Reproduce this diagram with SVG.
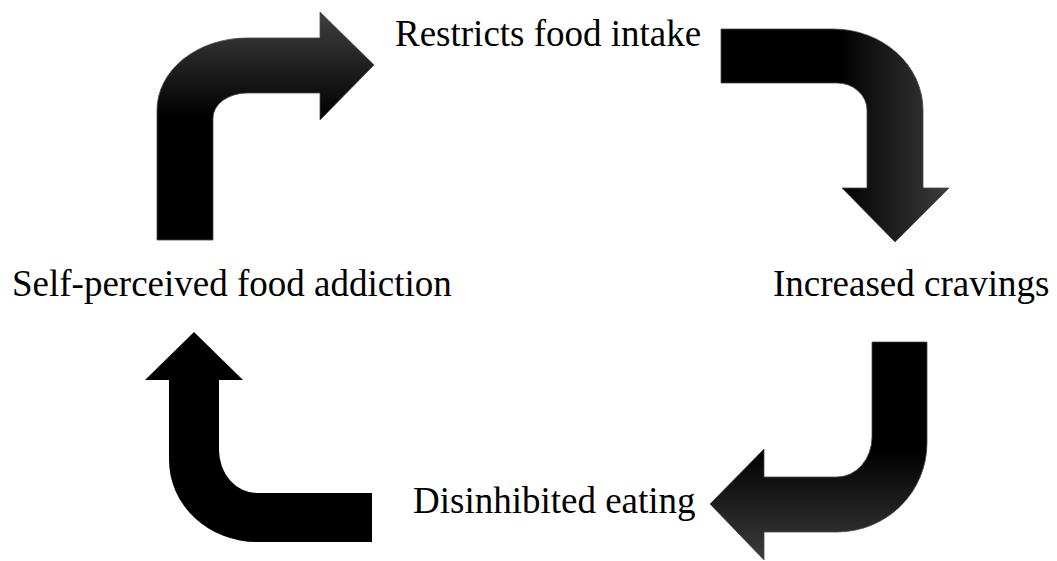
<svg xmlns="http://www.w3.org/2000/svg" width="1057" height="561" viewBox="0 0 1057 561">
  <style>
    .lbl { font-family: "Liberation Serif", "Times New Roman", serif; font-size: 37px; fill: #000; }
    .arr { stroke: #4a4a4a; stroke-width: 0.8; stroke-linejoin: miter; }
    .plain { fill: #000; stroke: none; }
  </style>
  <defs>
    <linearGradient id="g1" gradientUnits="userSpaceOnUse" x1="0" y1="12" x2="0" y2="118">
      <stop offset="0" stop-color="#404040"/>
      <stop offset="1" stop-color="#000000"/>
    </linearGradient>
    <linearGradient id="g2" gradientUnits="userSpaceOnUse" x1="838" y1="0" x2="949" y2="0">
      <stop offset="0" stop-color="#000000"/>
      <stop offset="1" stop-color="#3c3c3c"/>
    </linearGradient>
    <linearGradient id="g3" gradientUnits="userSpaceOnUse" x1="0" y1="450" x2="0" y2="560">
      <stop offset="0" stop-color="#000000"/>
      <stop offset="1" stop-color="#3c3c3c"/>
    </linearGradient>
  </defs>
  <rect width="1057" height="561" fill="#ffffff"/>
  <g id="connectors">
    <path id="arrow-1" class="arr" fill="url(#g1)" d="M157,240 L157,110 A90,72 0 0 1 247,38 L320,38 L320,12 L374,65 L320,120 L320,93 L247,93 A34,25 0 0 0 213,118 L213,240 Z"/>
    <path id="arrow-2" class="arr" fill="url(#g2)" d="M721,29 L833,29 A90,81 0 0 1 923,110 L923,188 L949,188 L895,242 L842,188 L867,188 L867,110 A30,27 0 0 0 837,83 L721,83 Z"/>
    <path id="arrow-3" class="arr" fill="url(#g3)" d="M872,342 L927,342 L927,443 A90,89 0 0 1 837,532 L764,532 L764,560 L710,504 L764,449 L764,477 L837,477 A35,40 0 0 0 872,437 Z"/>
    <path id="arrow-4" class="plain" d="M194,332 L243,380 L219,380 L219,450 A38,43 0 0 0 257,493 L372,493 L372,542 L257,542 A88,82 0 0 1 169,460 L169,380 L145,380 Z"/>
  </g>
  <g id="node-restricts">
    <text class="lbl" x="395" y="46">Restricts food intake</text>
  </g>
  <g id="node-cravings">
    <text class="lbl" x="773" y="296">Increased cravings</text>
  </g>
  <g id="node-disinhibited">
    <text class="lbl" x="413" y="513">Disinhibited eating</text>
  </g>
  <g id="node-addiction">
    <text class="lbl" x="12" y="296">Self-perceived food addiction</text>
  </g>
</svg>
